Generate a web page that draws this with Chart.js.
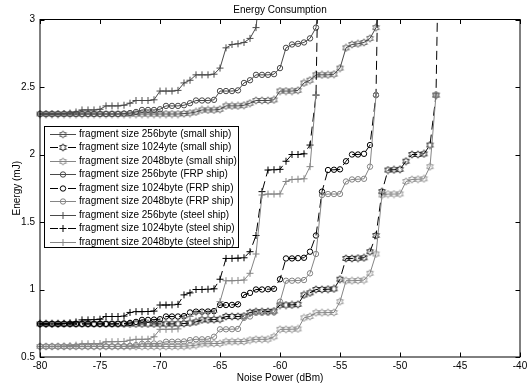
<!DOCTYPE html>
<html>
<head>
<meta charset="utf-8">
<script src="https://cdn.jsdelivr.net/npm/chart.js@4/dist/chart.umd.min.js"></script>
<style>
html,body{margin:0;padding:0;background:#fff;}
</style>
</head>
<body>
<canvas id="c" width="532" height="385"></canvas>
<script>
// noise power grid (dBm)
const noisePower = [-80,-79.5,-79,-78.5,-78,-77.5,-77,-76.5,-76,-75.5,-75,-74.5,-74,-73.5,-73,-72.5,-72,-71.5,-71,-70.5,
  -70,-69.5,-69,-68.5,-68,-67.5,-67,-66.5,-66,-65.5,-65,-64.5,-64,-63.5,-63,-62.5,-62,-61.5,-61,-60.5,
  -60,-59.5,-59,-58.5,-58,-57.5,-57,-56.5,-56,-55.5,-55,-54.5,-54,-53.5,-53,-52.5,-52,-51.5,-51,-50.5,
  -50,-49.5,-49,-48.5,-48,-47.5,-47,-46.5];
const xTicks = [-80,-75,-70,-65,-60,-55,-50,-45,-40];
const yTicks = [0.5,1,1.5,2,2.5,3];

// energy (mJ)
const small256 = [2.30,2.30,2.30,2.30,2.30,2.30,2.30,2.30,2.30,2.30,
  2.30,2.30,2.30,2.30,2.30,2.30,2.30,2.30,2.30,2.30,
  2.30,2.30,2.30,2.30,2.303,2.307,2.315,2.33,2.33,2.33,
  2.335,2.36,2.36,2.36,2.365,2.38,2.40,2.40,2.40,2.405,
  2.47,2.47,2.47,2.475,2.53,2.55,2.59,2.59,2.59,2.595,
  2.64,2.79,2.815,2.82,2.83,2.86,2.94,3.35];
const small1024 = [0.745,0.745,0.745,0.745,0.745,0.745,0.745,0.745,0.745,0.745,
  0.745,0.745,0.745,0.745,0.745,0.745,0.745,0.745,0.745,0.745,
  0.745,0.745,0.745,0.746,0.748,0.752,0.76,0.775,0.775,0.777,
  0.78,0.80,0.80,0.80,0.803,0.83,0.836,0.836,0.837,0.84,
  0.885,0.885,0.886,0.89,0.96,0.975,1.00,1.00,1.002,1.005,
  1.076,1.23,1.23,1.232,1.235,1.28,1.40,1.725,1.885,1.887,
  1.89,1.95,2.00,2.00,2.005,2.07,2.44,5.0];
const small2048 = [0.578,0.578,0.578,0.578,0.578,0.578,0.578,0.578,0.578,0.578,
  0.578,0.578,0.578,0.578,0.578,0.578,0.578,0.578,0.578,0.578,
  0.578,0.578,0.578,0.579,0.58,0.583,0.588,0.598,0.598,0.60,
  0.60,0.613,0.613,0.614,0.615,0.625,0.631,0.631,0.632,0.65,
  0.705,0.705,0.706,0.708,0.79,0.80,0.828,0.828,0.829,0.83,
  0.91,1.065,1.065,1.067,1.07,1.12,1.263,1.70,1.707,1.707,
  1.708,1.80,1.815,1.817,1.82,1.91,2.44];
const frp256 = [2.30,2.30,2.30,2.30,2.30,2.30,2.30,2.30,2.30,2.30,
  2.30,2.30,2.30,2.30,2.303,2.307,2.315,2.33,2.33,2.33,
  2.335,2.36,2.36,2.36,2.365,2.38,2.40,2.40,2.40,2.405,
  2.47,2.47,2.47,2.475,2.53,2.55,2.59,2.59,2.59,2.595,
  2.64,2.79,2.815,2.82,2.83,2.86,2.94,3.35];
const frp1024 = [0.745,0.745,0.745,0.745,0.745,0.745,0.745,0.745,0.745,0.745,
  0.745,0.745,0.745,0.746,0.748,0.752,0.76,0.775,0.775,0.777,
  0.78,0.80,0.80,0.80,0.803,0.83,0.836,0.836,0.837,0.84,
  0.885,0.885,0.886,0.89,0.96,0.975,1.00,1.00,1.002,1.005,
  1.076,1.23,1.23,1.232,1.235,1.28,1.40,1.725,1.885,1.887,
  1.89,1.95,2.00,2.00,2.005,2.07,2.44,5.0];
const frp2048 = [0.578,0.578,0.578,0.578,0.578,0.578,0.578,0.578,0.578,0.578,
  0.578,0.578,0.578,0.579,0.58,0.583,0.588,0.598,0.598,0.60,
  0.60,0.613,0.613,0.614,0.615,0.625,0.631,0.631,0.632,0.65,
  0.705,0.705,0.706,0.708,0.79,0.80,0.828,0.828,0.829,0.83,
  0.91,1.065,1.065,1.067,1.07,1.12,1.263,1.70,1.707,1.707,
  1.708,1.80,1.815,1.817,1.82,1.91,2.44];
const steel256 = [2.30,2.30,2.30,2.30,2.303,2.307,2.315,2.33,2.33,2.33,
  2.335,2.36,2.36,2.36,2.365,2.38,2.40,2.40,2.40,2.405,
  2.47,2.47,2.47,2.475,2.53,2.55,2.59,2.59,2.59,2.595,
  2.64,2.79,2.815,2.82,2.83,2.86,2.94,3.35];
const steel1024 = [0.745,0.745,0.745,0.746,0.748,0.752,0.76,0.775,0.775,0.777,
  0.78,0.80,0.80,0.80,0.803,0.83,0.836,0.836,0.837,0.84,
  0.885,0.885,0.886,0.89,0.96,0.975,1.00,1.00,1.002,1.005,
  1.076,1.23,1.23,1.232,1.235,1.28,1.40,1.725,1.885,1.887,
  1.89,1.95,2.00,2.00,2.005,2.07,2.44,5.0];
const steel2048 = [0.578,0.578,0.578,0.579,0.58,0.583,0.588,0.598,0.598,0.60,
  0.60,0.613,0.613,0.614,0.615,0.625,0.631,0.631,0.632,0.65,
  0.705,0.705,0.706,0.708,0.79,0.80,0.828,0.828,0.829,0.83,
  0.91,1.065,1.065,1.067,1.07,1.12,1.263,1.70,1.707,1.707,
  1.708,1.80,1.815,1.817,1.82,1.91,2.44];

const names = [
  'fragment size 256byte (small ship)',
  'fragment size 1024yte (small ship)',
  'fragment size 2048byte (small ship)',
  'fragment size 256byte (FRP ship)',
  'fragment size 1024byte (FRP ship)',
  'fragment size 2048byte (FRP ship)',
  'fragment size 256byte (steel ship)',
  'fragment size 1024byte (steel ship)',
  'fragment size 2048byte (steel ship)'
];

const DARK = '#4a4a4a', BLACK = '#000000', GRAY = '#858585';
const FONT = 'Liberation Sans, Arial, Helvetica, sans-serif';
const DASH = [9, 5];

function hexagram(color) {
  const c = document.createElement('canvas');
  c.width = 9; c.height = 9;
  const g = c.getContext('2d');
  g.strokeStyle = color; g.lineWidth = 0.9;
  const R = 3.7, r = R / Math.sqrt(3);
  g.beginPath();
  for (let k = 0; k < 12; k++) {
    const a = -Math.PI / 2 + k * Math.PI / 6;
    const rad = k % 2 ? r : R;
    const px = 4.5 + rad * Math.cos(a), py = 4.5 + rad * Math.sin(a);
    k ? g.lineTo(px, py) : g.moveTo(px, py);
  }
  g.closePath(); g.stroke();
  return c;
}

const styles = [
  {color: DARK, dash: [], marker: hexagram(DARK), r: 3.5},
  {color: BLACK, dash: DASH, marker: hexagram(BLACK), r: 3.5},
  {color: GRAY, dash: [], marker: hexagram(GRAY), r: 3.5},
  {color: DARK, dash: [], marker: 'circle', r: 2.7},
  {color: BLACK, dash: DASH, marker: 'circle', r: 2.7},
  {color: GRAY, dash: [], marker: 'circle', r: 2.7},
  {color: DARK, dash: [], marker: 'cross', r: 3.5},
  {color: BLACK, dash: DASH, marker: 'cross', r: 3.5},
  {color: GRAY, dash: [], marker: 'cross', r: 3.5}
];
const values = [small256, small1024, small2048, frp256, frp1024, frp2048, steel256, steel1024, steel2048];

const datasets = values.map((ys, i) => ({
  label: names[i],
  data: ys.map((y, k) => ({x: noisePower[k], y})),
  borderColor: styles[i].color,
  borderWidth: 1,
  borderDash: styles[i].dash,
  pointStyle: styles[i].marker,
  pointRadius: styles[i].r,
  pointBorderWidth: 1,
  pointBorderColor: styles[i].color,
  pointBackgroundColor: 'rgba(0,0,0,0)',
  tension: 0,
  fill: false,
  clip: {left: 5, right: 5, bottom: 5, top: 0},
  order: 8 - i
}));

// matlab-like box with inward ticks
const frame = {
  id: 'frame',
  afterDatasetsDraw(chart) {
    const {ctx, chartArea: a, scales: {x, y}} = chart;
    ctx.save();
    ctx.strokeStyle = '#000'; ctx.lineWidth = 1; ctx.setLineDash([]);
    ctx.strokeRect(a.left, a.top, a.right - a.left, a.bottom - a.top);
    ctx.beginPath();
    xTicks.forEach(v => {
      const px = Math.round(x.getPixelForValue(v)) + 0.5;
      ctx.moveTo(px, a.bottom); ctx.lineTo(px, a.bottom - 4.5);
      ctx.moveTo(px, a.top); ctx.lineTo(px, a.top + 4.5);
    });
    yTicks.forEach(v => {
      const py = Math.round(y.getPixelForValue(v)) + 0.5;
      ctx.moveTo(a.left, py); ctx.lineTo(a.left + 4.5, py);
      ctx.moveTo(a.right, py); ctx.lineTo(a.right - 4.5, py);
    });
    ctx.stroke();
    ctx.restore();
  }
};

// legend box drawn like the matlab one
const legendBox = {
  id: 'legendBox',
  afterDraw(chart) {
    const ctx = chart.ctx;
    const bx = 44.5, by = 126.5, bw = 194, bh = 121, step = 13.55;
    ctx.save();
    ctx.fillStyle = '#fff';
    ctx.fillRect(bx, by, bw, bh);
    ctx.strokeStyle = '#000'; ctx.lineWidth = 1;
    ctx.strokeRect(bx, by, bw, bh);
    ctx.font = '10px ' + FONT;
    ctx.textBaseline = 'middle';
    names.forEach((n, i) => {
      const s = styles[i];
      const ly = Math.round(by + 7 + i * step) + 0.5;
      ctx.strokeStyle = s.color; ctx.lineWidth = 1;
      ctx.beginPath();
      if (s.dash.length) {
        ctx.moveTo(50, ly); ctx.lineTo(58, ly);
        ctx.moveTo(68, ly); ctx.lineTo(76, ly);
      } else {
        ctx.moveTo(50, ly); ctx.lineTo(76, ly);
      }
      ctx.stroke();
      ctx.fillStyle = 'rgba(0,0,0,0)';
      Chart.helpers.drawPoint(ctx, {pointStyle: s.marker, radius: s.r, borderWidth: 1, rotation: 0}, 63, ly);
      ctx.fillStyle = '#000';
      ctx.fillText(n, 79, ly);
    });
    ctx.restore();
  }
};

new Chart(document.getElementById('c'), {
  type: 'line',
  data: {datasets},
  options: {
    responsive: false,
    animation: false,
    events: [],
    devicePixelRatio: 1,
    layout: {padding: {left: 0, right: 12, top: 0, bottom: 0}},
    plugins: {
      legend: {display: false},
      tooltip: {enabled: false},
      title: {
        display: true, text: 'Energy Consumption', fullSize: false, color: '#000',
        font: {family: FONT, size: 10, weight: 'normal'},
        padding: {top: 4, bottom: 3.5}
      }
    },
    scales: {
      x: {
        type: 'linear', min: -80, max: -40,
        afterBuildTicks: s => { s.ticks = xTicks.map(v => ({value: v})); },
        ticks: {color: '#000', font: {family: FONT, size: 10}, padding: 3, maxRotation: 0, autoSkip: false,
          callback: v => String(v)},
        grid: {display: false, drawTicks: false},
        border: {display: false},
        title: {display: true, text: 'Noise Power (dBm)', color: '#000',
          font: {family: FONT, size: 10}, padding: {top: 0, bottom: 1}},
        afterFit: s => { s.height = 28; }
      },
      y: {
        type: 'linear', min: 0.5, max: 3,
        afterBuildTicks: s => { s.ticks = yTicks.map(v => ({value: v})); },
        ticks: {color: '#000', font: {family: FONT, size: 10}, padding: 5,
          callback: v => String(v)},
        grid: {display: false, drawTicks: false},
        border: {display: false},
        title: {display: true, text: 'Energy (mJ)', color: '#000',
          font: {family: FONT, size: 10}, padding: {top: 11, bottom: 0}},
        afterFit: s => { s.width = 40; }
      }
    }
  },
  plugins: [frame, legendBox]
});
</script>
</body>
</html>
